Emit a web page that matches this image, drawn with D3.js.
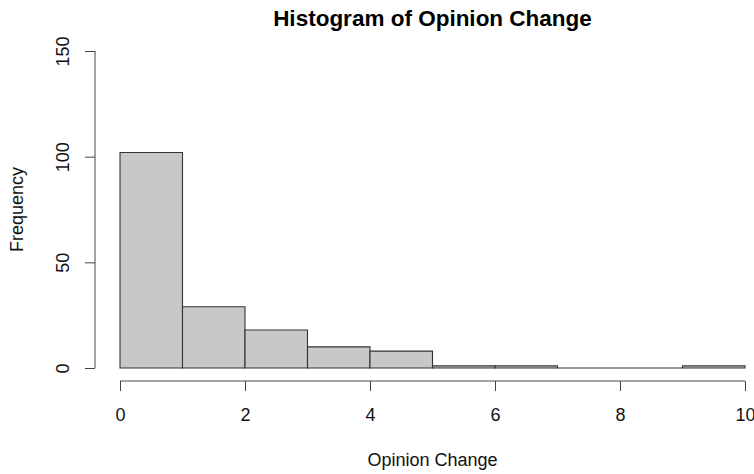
<!DOCTYPE html>
<html><head><meta charset="utf-8">
<script src="https://cdn.jsdelivr.net/npm/d3@7"></script>
<style>body{margin:0;background:#fff;} text{font-family:"Liberation Sans",Arial,sans-serif;}</style>
</head><body>
<svg id="c" width="754" height="474"></svg>
<script>
const binStarts = [0,1,2,3,4,5,6,7,8,9];
const binWidth = 1;
const counts = [102,29,18,10,8,1,1,0,0,1];
const xTicks = [0,2,4,6,8,10];
const yTicks = [0,50,100,150];
const title = "Histogram of Opinion Change";
const xLabel = "Opinion Change";
const yLabel = "Frequency";

const svg = d3.select("#c");
const x = d3.scaleLinear().domain([0,10]).range([120,745]);
const y = d3.scaleLinear().domain([0,150]).range([368,51]);

svg.append("g").selectAll("path").data(counts).join("path")
  .attr("d",(d,i)=>{
    const x0 = x(binStarts[i]), x1 = x(binStarts[i]+binWidth), y0 = y(0), y1 = y(d);
    return `M${x0},${y0}V${y1}H${x1}V${y0}Z`;
  })
  .attr("fill","#c8c8c8").attr("stroke","#333").attr("stroke-width",1.1);

const xa = svg.append("g").attr("transform","translate(0,381)")
  .call(d3.axisBottom(x).tickValues(xTicks).tickSize(10).tickPadding(0).tickFormat(d3.format("d")));
xa.select(".domain").attr("d",`M${x(0)},0H${x(10)}`).attr("stroke","#444");
xa.selectAll(".tick line").attr("stroke","#444");
xa.selectAll(".tick text").attr("font-size",18).attr("fill","#111").attr("y",40).attr("dy",0);

const ya = svg.append("g").attr("transform","translate(95,0)")
  .call(d3.axisLeft(y).tickValues(yTicks).tickSize(10));
ya.select(".domain").attr("d",`M0,${y(0)}V${y(150)}`).attr("stroke","#444");
ya.selectAll(".tick line").attr("stroke","#444");
ya.selectAll(".tick text").attr("font-size",18).attr("fill","#111")
  .attr("x",0).attr("y",-26).attr("dy",0).attr("text-anchor","middle")
  .attr("transform","rotate(-90)");

svg.append("text").attr("x",432.5).attr("y",26).attr("text-anchor","middle")
  .attr("font-size",22.5).attr("font-weight","bold").attr("fill","#000").text(title);
svg.append("text").attr("x",432.5).attr("y",466).attr("text-anchor","middle")
  .attr("font-size",18).attr("fill","#111").text(xLabel);
svg.append("text").attr("transform","translate(23,209.5) rotate(-90)").attr("text-anchor","middle")
  .attr("font-size",18).attr("fill","#111").text(yLabel);
</script>
</body></html>
